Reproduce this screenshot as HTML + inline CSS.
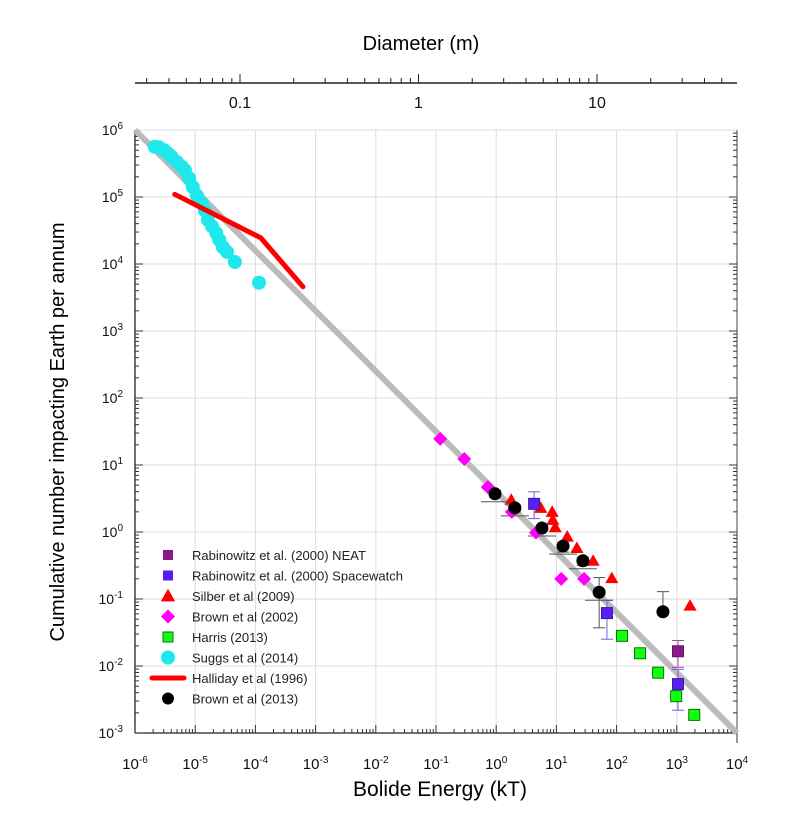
<!DOCTYPE html>
<html><head><meta charset="utf-8"><style>
body{margin:0;background:#fff;}
svg{display:block;font-family:"Liberation Sans",Arial,sans-serif;}
</style></head><body>
<svg id="chart" width="786" height="817" xmlns="http://www.w3.org/2000/svg">
<g id="grid"></g>
<g id="axes"></g>
<g id="series"></g>
<g id="legend"></g>
<text x="421" y="50" font-size="20" text-anchor="middle">Diameter (m)</text>
<text x="440" y="796" font-size="21" text-anchor="middle">Bolide Energy (kT)</text>
<text transform="translate(64,432) rotate(-90)" font-size="20" text-anchor="middle">Cumulative number impacting Earth per annum</text>
</svg>
<script>
// ---- data (log10 energy kT, log10 cumulative number) ----
const xTickExps = [-6,-5,-4,-3,-2,-1,0,1,2,3,4];
const yTickExps = [-3,-2,-1,0,1,2,3,4,5,6];
const diamTicks = [0.1,1,10];
const diamTickLabels = ["0.1","1","10"];
const fitLine = [[-6,6],[4,-3]];
const neatE = [3.02]; const neatN = [-1.78]; const neatErr = [[-1.62,-2.02]];
const spaceE = [0.63,1.84,3.02]; const spaceN = [0.42,-1.21,-2.27];
const spaceErr = [[0.6,0.2],[-1.02,-1.6],[-2.05,-2.66]];
const silberE = [0.25,0.74,0.93,0.94,0.98,1.18,1.34,1.61,1.92,3.22];
const silberN = [0.48,0.36,0.30,0.18,0.07,-0.07,-0.24,-0.43,-0.69,-1.10];
const brown02E = [-0.93,-0.53,-0.14,0.26,0.66,1.08,1.46];
const brown02N = [1.39,1.09,0.67,0.30,-0.01,-0.70,-0.70];
const harrisE = [2.09,2.39,2.69,2.99,3.29];
const harrisN = [-1.55,-1.81,-2.10,-2.45,-2.73];
const suggsE = [-5.67,-5.6,-5.52,-5.45,-5.39,-5.3,-5.22,-5.17,-5.1,-5.04,-4.97,-4.89,-4.84,-4.79,-4.72,-4.65,-4.6,-4.54,-4.47,-4.34,-3.94];
const suggsN = [5.75,5.74,5.7,5.65,5.6,5.52,5.45,5.4,5.28,5.15,5.02,4.91,4.8,4.66,4.56,4.46,4.36,4.25,4.18,4.03,3.72];
const hallE = [-5.34,-3.91,-3.21];
const hallN = [5.04,4.39,3.66];
const brown13E = [-0.02,0.31,0.76,1.11,1.44,1.71,2.77];
const brown13N = [0.57,0.36,0.06,-0.21,-0.43,-0.90,-1.19];
const brown13Err = [[0.62,0.52],[0.4,0.3],[0.1,0.02],[-0.16,-0.3],[-0.38,-0.5],[-0.68,-1.43],[-0.89,-1.19]];

const X0=135, XD=60.2, Y0=130, YD=67;
const sx = e => X0 + (e+6)*XD;
const sy = n => Y0 + (6-n)*YD;
const NS="http://www.w3.org/2000/svg";
function mk(parent, tag, attrs){const el=document.createElementNS(NS,tag);for(const k in attrs)el.setAttribute(k,attrs[k]);parent.appendChild(el);return el;}
const grid=document.getElementById('grid'), axes=document.getElementById('axes'), series=document.getElementById('series'), legend=document.getElementById('legend');

xTickExps.forEach(e=>{const l=mk(grid,'line',{x1:sx(e),x2:sx(e),y1:sy(6),y2:sy(-3),stroke:'#ddd','stroke-width':1});

});
yTickExps.forEach(n=>{const l=mk(grid,'line',{x1:sx(-6),x2:sx(4),y1:sy(n),y2:sy(n),stroke:'#ddd','stroke-width':1});

});

mk(axes,'line',{x1:sx(-6),x2:sx(4),y1:sy(-3),y2:sy(-3),stroke:'#222','stroke-width':1.3});
mk(axes,'line',{x1:sx(-6),x2:sx(-6),y1:sy(6),y2:sy(-3),stroke:'#222','stroke-width':1.3});
mk(axes,'line',{x1:sx(4),x2:sx(4),y1:sy(6),y2:sy(-3),stroke:'#444','stroke-width':1});
for(let e=-6;e<4;e++){for(let m=1;m<10;m++){const x=sx(e+Math.log10(m));mk(axes,'line',{x1:x,x2:x,y1:sy(-3),y2:sy(-3)-(m==1?8:4),stroke:'#333','stroke-width':1});}}
mk(axes,'line',{x1:sx(4),x2:sx(4),y1:sy(-3),y2:sy(-3)+10,stroke:'#333'});
xTickExps.forEach(e=>{const t=mk(axes,'text',{x:sx(e),y:sy(-3)+36,'font-size':15,'text-anchor':'middle',fill:'#111'});


t.innerHTML='10<tspan dy="-6" font-size="10">'+e+'</tspan>';});
for(let n=-3;n<6;n++){for(let m=1;m<10;m++){const y=sy(n+Math.log10(m));mk(axes,'line',{x1:sx(-6),x2:sx(-6)+(m==1?8:4),y1:y,y2:y,stroke:'#333'});mk(axes,'line',{x1:sx(4),x2:sx(4)-(m==1?8:4),y1:y,y2:y,stroke:'#333'});}}
yTickExps.forEach(n=>{const t=mk(axes,'text',{x:sx(-6)-12,y:sy(n)+5,'font-size':14,'text-anchor':'end',fill:'#111'});


t.innerHTML='10<tspan dy="-6" font-size="10">'+n+'</tspan>';});
const TY=83, DX0=240, DD=178.5; const dx=d=>DX0+DD*Math.log10(d/0.1);
mk(axes,'line',{x1:sx(-6),x2:sx(4),y1:TY,y2:TY,stroke:'#222','stroke-width':1.5});
for(let e=-2;e<2;e++){for(let m=1;m<10;m++){const d=m*Math.pow(10,e);const x=dx(d);if(x<sx(-6)+8||x>sx(4)-2)continue;mk(axes,'line',{x1:x,x2:x,y1:TY,y2:TY-(m==1?9:5),stroke:'#222'});}}
diamTicks.forEach((d,i)=>{const t=mk(axes,'text',{x:dx(d),y:TY+25,'font-size':16,'text-anchor':'middle',fill:'#111'});


t.textContent=diamTickLabels[i];});

const fl=mk(series,'line',{x1:sx(fitLine[0][0]),y1:sy(fitLine[0][1]),x2:sx(fitLine[1][0]),y2:sy(fitLine[1][1]),stroke:'#bbb','stroke-width':6});



suggsE.forEach((e,i)=>{const c=mk(series,'circle',{cx:sx(e),cy:sy(suggsN[i]),r:7,fill:'#1ee8ec'});

});
const hp=mk(series,'polyline',{points:hallE.map((e,i)=>sx(e)+','+sy(hallN[i])).join(' '),fill:'none',stroke:'#f00','stroke-width':5,'stroke-linecap':'round'});



function vErr(e,lo,hi,col){const x=sx(e);mk(series,'line',{x1:x,x2:x,y1:sy(lo),y2:sy(hi),stroke:col,'stroke-width':1});mk(series,'line',{x1:x-6,x2:x+6,y1:sy(lo),y2:sy(lo),stroke:col});mk(series,'line',{x1:x-6,x2:x+6,y1:sy(hi),y2:sy(hi),stroke:col});}
brown13E.forEach((e,i)=>vErr(e,brown13Err[i][0],brown13Err[i][1],'#555'));
spaceE.forEach((e,i)=>vErr(e,spaceErr[i][0],spaceErr[i][1],'#7a5adf'));
neatE.forEach((e,i)=>vErr(e,neatErr[i][0],neatErr[i][1],'#a04a9a'));
brown13E.slice(0,6).forEach((e,i)=>{const y=sy(brown13N[i])+8;mk(series,'line',{x1:sx(e)-14,x2:sx(e)+14,y1:y,y2:y,stroke:'#555'});});

function sq(g,x,y,s,fill,stroke,name){const r=mk(g,'rect',{x:x-s/2,y:y-s/2,width:s,height:s,fill:fill,stroke:stroke,'stroke-width':1});

return r;}
function tri(g,x,y,s,name){const p=mk(g,'polygon',{points:`${x},${y-s*0.6} ${x+s*0.6},${y+s*0.45} ${x-s*0.6},${y+s*0.45}`,fill:'#f00'});

}
function dia(g,x,y,s,name){const p=mk(g,'polygon',{points:`${x},${y-s} ${x+s},${y} ${x},${y+s} ${x-s},${y}`,fill:'#f0f'});

}

brown02E.forEach((e,i)=>dia(series,sx(e),sy(brown02N[i]),7,'brown2002-point'));
silberE.forEach((e,i)=>tri(series,sx(e),sy(silberN[i]),11,'silber-point'));
harrisE.forEach((e,i)=>sq(series,sx(e),sy(harrisN[i]),11,'#1f1','#070','harris-point'));
spaceE.forEach((e,i)=>sq(series,sx(e),sy(spaceN[i]),11,'#5a1ef0','#3a1aa0','spacewatch-point'));
neatE.forEach((e,i)=>sq(series,sx(e),sy(neatN[i]),11,'#8a1a8a','#6a106a','neat-point'));
brown13E.forEach((e,i)=>{const c=mk(series,'circle',{cx:sx(e),cy:sy(brown13N[i]),r:6.5,fill:'#000'});

});

const lab=["Rabinowitz et al. (2000) NEAT","Rabinowitz et al. (2000) Spacewatch","Silber et al (2009)","Brown et al (2002)","Harris (2013)","Suggs et al (2014)","Halliday et al (1996)","Brown et al (2013)"];
lab.forEach((t,i)=>{const y=555+i*20.5;const mx=168;
if(i==0)sq(legend,mx,y,10,'#8a1a8a','none','legend-marker-neat');
if(i==1)sq(legend,mx,y,10,'#5a1ef0','none','legend-marker-spacewatch');
if(i==2)tri(legend,mx,y,12,'legend-marker-silber');
if(i==3)dia(legend,mx,y,7,'legend-marker-brown2002');
if(i==4)sq(legend,mx,y,10,'#1f1','#070','legend-marker-harris');
if(i==5){const c=mk(legend,'circle',{cx:mx,cy:y,r:7,fill:'#1ee8ec'});}
if(i==6){const l=mk(legend,'line',{x1:152,x2:184,y1:y,y2:y,stroke:'#f00','stroke-width':5,'stroke-linecap':'round'});}
if(i==7){const c=mk(legend,'circle',{cx:mx,cy:y,r:6,fill:'#000'});}
const tx=mk(legend,'text',{x:192,y:y+5,'font-size':13,fill:'#222'});


tx.textContent=t;});
</script>
</body></html>
